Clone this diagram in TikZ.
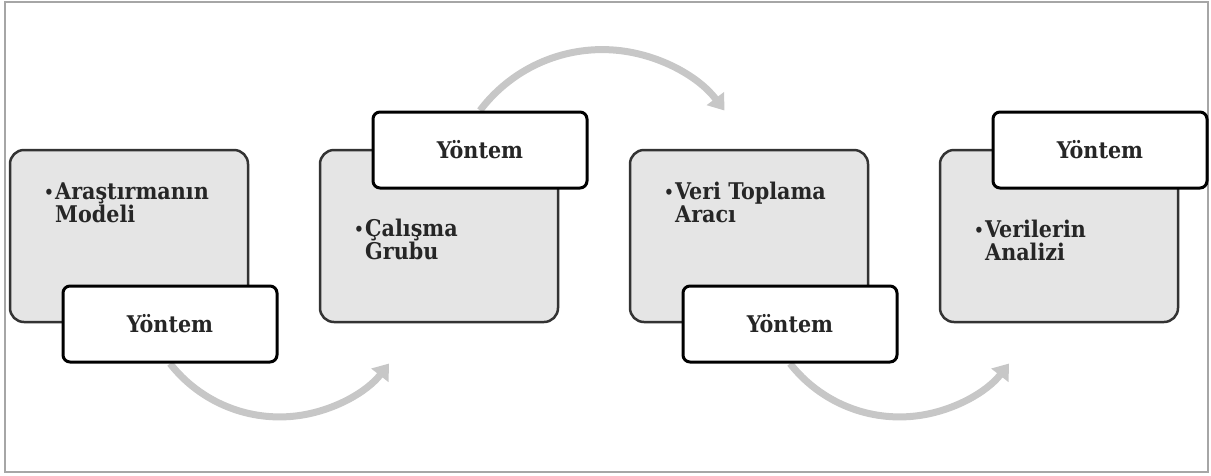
\documentclass[tikz,border=0pt]{standalone}
\usepackage{fontspec}
\setmainfont{DejaVu Serif Condensed}
\usetikzlibrary{arrows.meta,backgrounds}

\tikzset{
    konu/.style={draw=black!80, line width=2.5pt, fill=black!10, rounded corners=14pt,
        minimum width=238pt, minimum height=172pt},
    yontem/.style={draw=black, line width=3pt, fill=white, rounded corners=7pt,
        minimum width=214pt, minimum height=76pt, text=black!85,
        font=\bfseries\fontsize{23pt}{23pt}\selectfont},
    madde/.style={anchor=base west, align=left, inner sep=0pt, text=black!85,
        font=\bfseries\fontsize{23pt}{23pt}\selectfont},
    akis/.style={draw=black!22, line width=7pt,
        -{Triangle[width=21pt,length=15pt]}}
}
\newcommand{\nokta}{\makebox[11pt][l]{\raisebox{1pt}{\fontsize{17pt}{17pt}\selectfont •}}}

\begin{document}
\begin{tikzpicture}[x=1pt,y=1pt]
    \useasboundingbox (0,0) rectangle (1211,-475);
    % Draw frame
    \draw[black!35, line width=2pt] (5,-2) rectangle (1208,-472);

    % Gray boxes
    \node[konu] (k1) at (129,-236) {};
    \node[konu] (k2) at (439,-236) {};
    \node[konu] (k3) at (749,-236) {};
    \node[konu] (k4) at (1059,-236) {};

    % Texts in the boxes
    \node[madde] (m1) at (44,-222) {\nokta Araştırmanın\\\hspace*{11pt}Modeli};
    \node[madde] (m2) at (354,-259) {\nokta Çalışma\\\hspace*{11pt}Grubu};
    \node[madde] (m3) at (664,-222) {\nokta Veri Toplama\\\hspace*{11pt}Aracı};
    \node[madde] (m4) at (974,-260) {\nokta Verilerin\\\hspace*{11pt}Analizi};

    % Yontem boxes
    \node[yontem] (y1) at (170,-324) {Yöntem};
    \node[yontem] (y2) at (480,-150) {Yöntem};
    \node[yontem] (y3) at (790,-324) {Yöntem};
    \node[yontem] (y4) at (1100,-150) {Yöntem};

    % Curved arrows
    \begin{scope}[on background layer]
        \draw[akis] (y1.south) arc[start angle=218, end angle=322, radius=139pt];
        \draw[akis] (y2.north) arc[start angle=143, end angle=37, radius=153pt];
        \draw[akis] (y3.south) arc[start angle=218, end angle=322, radius=139pt];
    \end{scope}
\end{tikzpicture}
\end{document}
